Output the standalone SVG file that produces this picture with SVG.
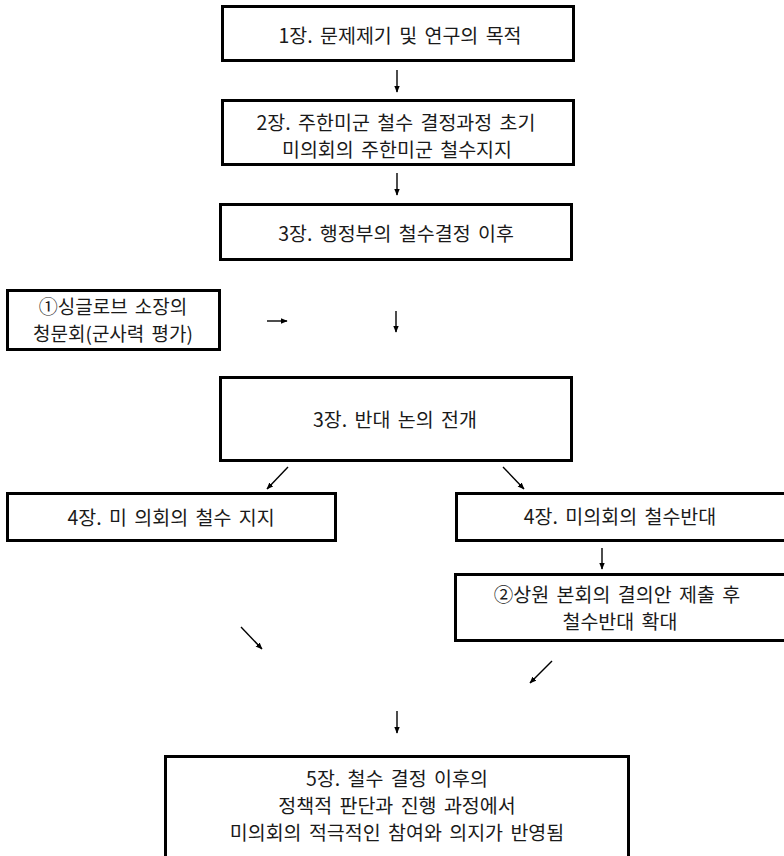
<svg xmlns="http://www.w3.org/2000/svg" width="784" height="856" viewBox="0 0 784 856">
<style>
.box{fill:#fff;stroke:#000;stroke-width:3}
.t{font-family:"Noto Sans CJK KR","Noto Sans",sans-serif;font-size:19.5px;fill:#1a1a1a;text-anchor:middle;word-spacing:3px}
.s{font-size:19px}
.c{stroke:#000;stroke-width:1.4;fill:none;marker-end:url(#ah)}
</style>
<defs>
<marker id="ah" viewBox="0 0 10 10" refX="9" refY="5" markerWidth="7" markerHeight="7" markerUnits="userSpaceOnUse" orient="auto">
<path d="M0,1 L10,5 L0,9 Z" fill="#000"/>
</marker>
</defs>
<rect width="784" height="856" fill="#fff"/>
<g id="connectors">
<line class="c" x1="397" y1="70" x2="397" y2="92"/>
<line class="c" x1="397" y1="173" x2="397" y2="195"/>
<line class="c" x1="267" y1="321" x2="287" y2="321"/>
<line class="c" x1="396" y1="311" x2="396" y2="332"/>
<line class="c" x1="288" y1="467" x2="267" y2="489"/>
<line class="c" x1="503" y1="467" x2="524" y2="489"/>
<line class="c" x1="602" y1="548" x2="602" y2="569"/>
<line class="c" x1="241" y1="627" x2="262" y2="649"/>
<line class="c" x1="552" y1="661" x2="530" y2="683"/>
<line class="c" x1="397" y1="711" x2="397" y2="733"/>
</g>
<g id="n1">
<rect class="box" x="222.5" y="6.5" width="351" height="54"/>
<text class="t" x="400" y="43">1장. 문제제기 및 연구의 목적</text>
</g>
<g id="n2">
<rect class="box" x="222.5" y="100.5" width="351" height="64"/>
<text class="t" x="396" y="130">2장. 주한미군 철수 결정과정 초기</text>
<text class="t" x="397" y="157">미의회의 주한미군 철수지지</text>
</g>
<g id="n3">
<rect class="box" x="220.5" y="204.5" width="351" height="55"/>
<text class="t" x="396" y="241">3장. 행정부의 철수결정 이후</text>
</g>
<g id="n4">
<rect class="box" x="7.5" y="290.5" width="212" height="59"/>
<text class="t s" x="113" y="314">①싱글로브 소장의</text>
<text class="t s" x="113" y="341">청문회(군사력 평가)</text>
</g>
<g id="n5">
<rect class="box" x="220.5" y="377.5" width="351" height="83"/>
<text class="t" x="395" y="427">3장. 반대 논의 전개</text>
</g>
<g id="n6">
<rect class="box" x="7.5" y="493.5" width="328" height="47"/>
<text class="t" x="171" y="525">4장. 미 의회의 철수 지지</text>
</g>
<g id="n7">
<rect class="box" x="456.5" y="493.5" width="340" height="47"/>
<text class="t" x="620" y="524">4장. 미의회의 철수반대</text>
</g>
<g id="n8">
<rect class="box" x="455.5" y="574.5" width="340" height="66"/>
<text class="t" x="617" y="602">②상원 본회의 결의안 제출 후</text>
<text class="t" x="620" y="629">철수반대 확대</text>
</g>
<g id="n9">
<rect class="box" x="165.5" y="756.5" width="463" height="120"/>
<text class="t" x="397" y="786">5장. 철수 결정 이후의</text>
<text class="t" x="397" y="813">정책적 판단과 진행 과정에서</text>
<text class="t" x="397" y="840">미의회의 적극적인 참여와 의지가 반영됨</text>
</g>
</svg>
